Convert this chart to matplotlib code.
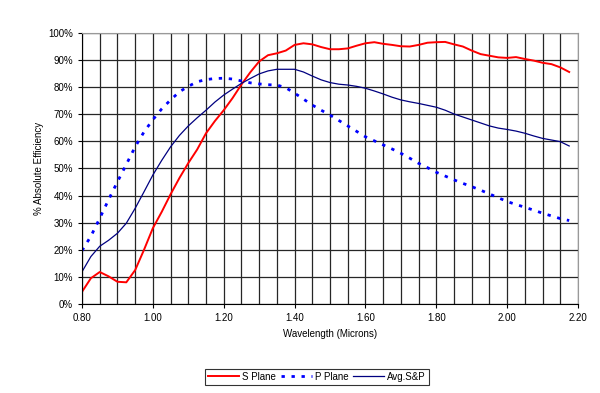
# Grating efficiency vs wavelength: S plane, P plane and their average.

import numpy as np
import matplotlib
matplotlib.use('Agg')
import matplotlib.pyplot as plt
from matplotlib.ticker import FuncFormatter, MultipleLocator

plt.rcParams['font.family'] = ['Liberation Sans', 'DejaVu Sans']

wavelength = np.round(np.arange(0.80, 2.1751, 0.025), 3)

s_plane = [4.5, 9.5, 11.8, 10.2, 8.2, 8.0, 12.5, 20.0, 28.0, 34.0,
           40.5, 46.5, 52.0, 57.0, 63.0, 67.5, 71.5, 76.0, 81.0, 85.5,
           89.5, 91.8, 92.5, 93.5, 95.6, 96.2, 95.8, 94.8, 94.0, 94.0,
           94.3, 95.3, 96.2, 96.6, 96.0, 95.6, 95.1, 95.0, 95.6, 96.4,
           96.6, 96.7, 95.8, 95.0, 93.5, 92.2, 91.6, 91.0, 90.8, 91.1,
           90.4, 89.8, 89.0, 88.5, 87.3, 85.6]

p_plane = [19.7, 25.0, 31.6, 38.5, 45.1, 51.5, 58.0, 63.5, 68.0, 72.0,
           75.3, 78.3, 80.3, 82.0, 82.8, 83.2, 83.3, 83.0, 82.3, 81.6,
           81.2, 80.9, 80.8, 79.8, 77.8, 75.6, 73.4, 71.5, 69.7, 67.7,
           65.7, 63.7, 61.7, 60.2, 58.7, 57.2, 55.6, 53.8, 51.9, 50.3,
           48.6, 47.2, 45.8, 44.5, 43.3, 42.0, 40.6, 39.2, 37.8, 36.7,
           35.7, 34.6, 33.5, 32.5, 31.5, 30.8]

avg_sp = [11.9, 17.5, 21.3, 23.5, 26.1, 29.8, 35.3, 41.4, 47.6, 53.0,
          58.0, 62.2, 65.7, 68.7, 71.5, 74.5, 77.1, 79.3, 81.4, 83.2,
          84.9, 86.0, 86.6, 86.6, 86.6, 85.6, 84.1, 82.7, 81.7, 81.1,
          80.8, 80.3, 79.6, 78.6, 77.5, 76.3, 75.3, 74.6, 74.0, 73.3,
          72.6, 71.5, 70.1, 69.0, 67.9, 66.8, 65.7, 64.9, 64.4, 63.8,
          63.0, 62.0, 61.1, 60.5, 59.9, 58.3]

fig = plt.figure(figsize=(6, 3.93), dpi=100)
ax = fig.add_axes([0.1367, 0.2265, 0.8267, 0.6896])

ax.plot(wavelength, s_plane, color='#ff0000', lw=1.4, label='S Plane')
ax.plot(wavelength, p_plane, color='#0000ff', lw=2.0, ls=(0, (1.2, 2.4)),
        label='P Plane')
ax.plot(wavelength, avg_sp, color='#000080', lw=0.9, label='Avg.S&P')

ax.set_xlim(0.80, 2.20)
ax.set_ylim(0, 100)
ax.xaxis.set_major_locator(MultipleLocator(0.2))
ax.xaxis.set_minor_locator(MultipleLocator(0.05))
ax.yaxis.set_major_locator(MultipleLocator(10))
ax.xaxis.set_major_formatter(FuncFormatter(lambda v, _: f'{v:.2f}'))
ax.yaxis.set_major_formatter(FuncFormatter(lambda v, _: f'{v:.0f}%'))
ax.grid(True, which='both', color='0.15', lw=0.9)
ax.set_axisbelow(True)
ax.tick_params(which='major', labelsize=7, length=3, direction='out')
ax.tick_params(axis='x', which='minor', length=0)
for side in ['left', 'bottom']:
    ax.spines[side].set_color('black')
for side in ['right', 'top']:
    ax.spines[side].set_color('0.6')

ax.set_xlabel('Wavelength (Microns)', fontsize=7, labelpad=4)
ax.set_ylabel('% Absolute Efficiency', fontsize=7, labelpad=3)

leg = fig.legend(loc='center', bbox_to_anchor=(0.528, 0.0415), ncol=3,
                 fontsize=7, frameon=True, fancybox=False, edgecolor='black',
                 handlelength=3.2, columnspacing=0.5, handletextpad=0.3,
                 borderpad=0.3)
leg.get_frame().set_linewidth(0.8)

fig.savefig('out.png', dpi=100)
